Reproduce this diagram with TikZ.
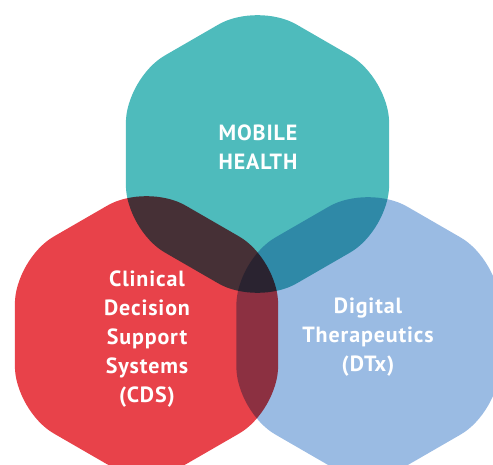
\documentclass[tikz,border=0pt]{standalone}
\usepackage{fontspec}
\setmainfont{PT Sans}[LetterSpace=4]
\usepackage{xcolor}
\usetikzlibrary{calc}

\definecolor{mhteal}{HTML}{4EBBBC}
\definecolor{cdsred}{HTML}{E8424A}
\definecolor{dtxblue}{HTML}{9ABBE3}

\tikzset{
  hexa/.style={rounded corners=45pt},
  hextext/.style={text=white, align=center, inner sep=0pt,
    font=\bfseries\fontsize{22}{29}\selectfont}
}

\begin{document}
\begin{tikzpicture}[x=1pt,y=-1pt]
	\clip (0,0) rectangle (493,465);
	% centres of the three hexagons
	\coordinate (mh) at (257.5,154);
	\coordinate (cds) at (146.5,335);
	\coordinate (dtx) at (368,336);
	% overlaps come out darker by multiplying the fills
	\begin{scope}[blend group=multiply]
		\foreach \c/\col in {mh/mhteal, cds/cdsred, dtx/dtxblue}
			\fill[\col, hexa] ($(\c)+(90:152)$) -- ($(\c)+(150:152)$) -- ($(\c)+(210:152)$)
				-- ($(\c)+(270:152)$) -- ($(\c)+(330:152)$) -- ($(\c)+(30:152)$) -- cycle;
	\end{scope}
	\node[hextext] (mhtext) at (258,147) {MOBILE\\HEALTH};
	\node[hextext] (cdstext) at (147,339) {Clinical\\Decision\\Support\\Systems\\(CDS)};
	\node[hextext] (dtxtext) at (368,337) {Digital\\Therapeutics\\(DTx)};
\end{tikzpicture}
\end{document}
